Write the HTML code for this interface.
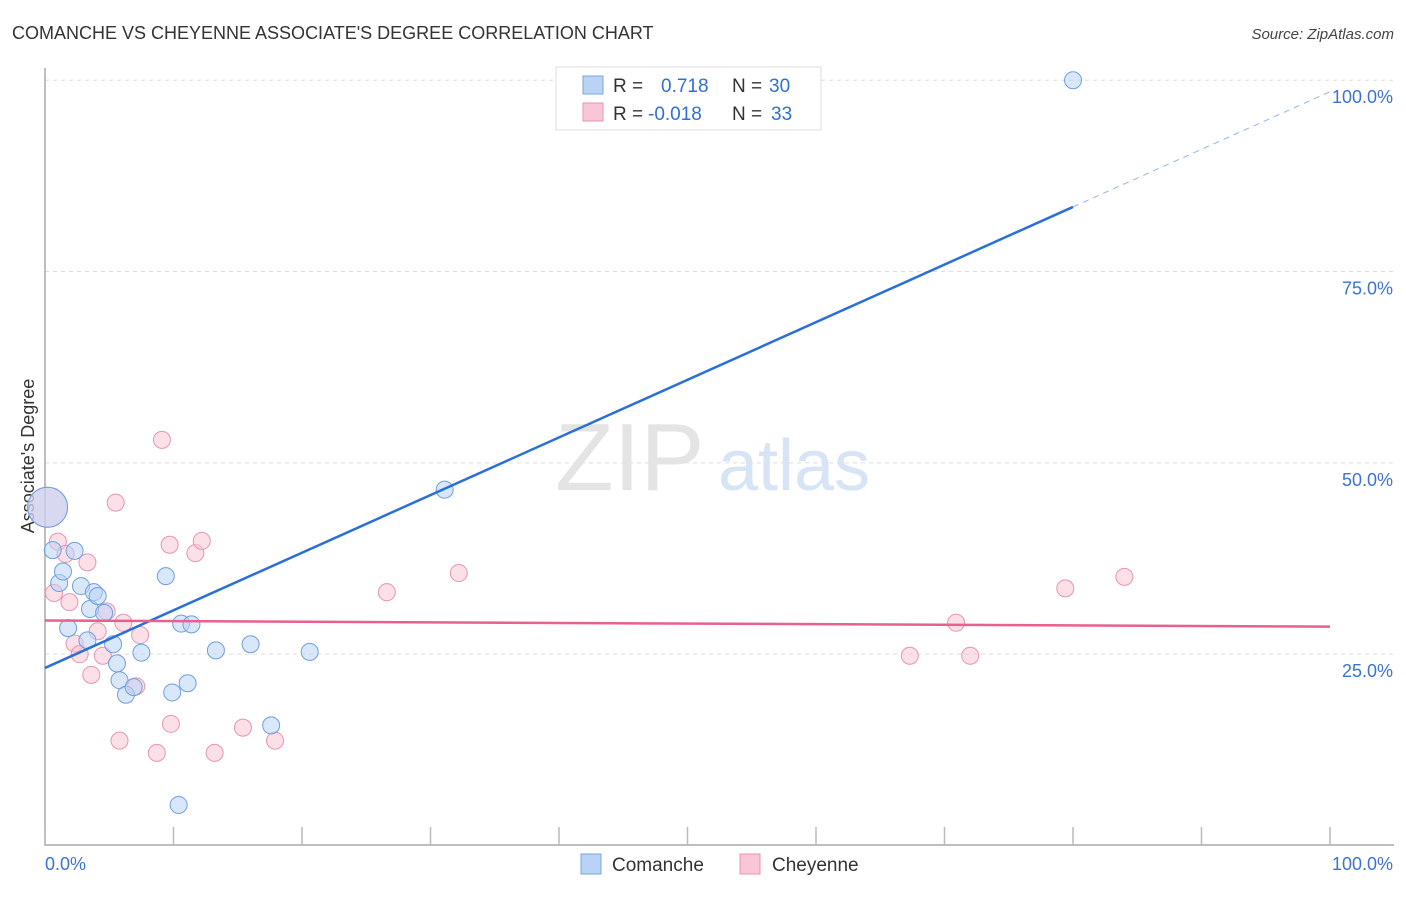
<!DOCTYPE html>
<html><head><meta charset="utf-8"><style>
body{margin:0;background:#fff;font-family:"Liberation Sans",sans-serif;}
svg text{font-family:"Liberation Sans",sans-serif;}
</style></head><body>
<svg id="c" width="1406" height="892" xmlns="http://www.w3.org/2000/svg">
<text x="12" y="39" font-size="18" fill="#333">COMANCHE VS CHEYENNE ASSOCIATE'S DEGREE CORRELATION CHART</text>
<text x="1394" y="39" font-size="15" fill="#444" font-style="italic" text-anchor="end">Source: ZipAtlas.com</text>
<text transform="translate(34,456) rotate(-90)" font-size="18" fill="#333" text-anchor="middle">Associate's Degree</text>
<g id="grid"></g>
<text x="555" y="490" font-size="96" fill="#e4e4e4" font-family="Liberation Serif">ZIP</text>
<text x="718" y="490" font-size="72" fill="#d6e4f5">atlas</text>
<g id="pts"></g>
<g id="lines"></g>
<g>
<rect x="556" y="67" width="265" height="63" fill="#fff" stroke="#ddd"/>
<rect x="583" y="76" width="20" height="18" fill="#b9d3f5" stroke="#7aa6e3"/>
<rect x="583" y="103" width="20" height="18" fill="#f9c6d6" stroke="#e994b0"/>
<text x="613" y="92" font-size="19" fill="#333">R =</text>
<text x="661" y="92" font-size="19" fill="#2f6fd6">0.718</text>
<text x="732" y="92" font-size="19" fill="#333">N =</text>
<text x="769" y="92" font-size="19" fill="#2f6fd6">30</text>
<text x="613" y="120" font-size="19" fill="#333">R =</text>
<text x="648" y="120" font-size="19" fill="#2f6fd6">-0.018</text>
<text x="732" y="120" font-size="19" fill="#333">N =</text>
<text x="771" y="120" font-size="19" fill="#2f6fd6">33</text>
</g>
<g>
<rect x="581" y="854" width="20" height="20" fill="#b9d3f5" stroke="#7aa6e3"/>
<text x="612" y="871" font-size="19" fill="#333">Comanche</text>
<rect x="740" y="854" width="20" height="20" fill="#f9c6d6" stroke="#e994b0"/>
<text x="772" y="871" font-size="19" fill="#333">Cheyenne</text>
</g>
</svg>
<script>
const xTicks=[0,10,20,30,40,50,60,70,80,90,100];
const yTicks=[25,50,75,100];
const yTickLabels=["25.0%","50.0%","75.0%","100.0%"];
const comancheX=[0.2,0.6,1.1,1.4,1.8,2.3,2.8,3.3,3.5,3.8,4.1,4.6,5.3,5.6,5.8,6.3,6.9,7.5,9.4,9.9,10.4,10.6,11.1,11.4,13.3,16.0,17.6,20.6,31.1,80.0];
const comancheY=[44.2,38.6,34.3,35.8,28.4,38.5,33.9,26.8,30.9,33.1,32.6,30.4,26.3,23.8,21.6,19.7,20.7,25.2,35.2,20.0,5.3,29.0,21.2,28.9,25.5,26.3,15.7,25.3,46.5,100.0];
const cheyenneX=[0.2,0.7,1.0,1.6,1.9,2.3,2.7,3.3,3.6,4.1,4.5,4.8,5.5,5.8,6.1,7.1,7.4,8.7,9.1,9.7,9.8,11.7,12.2,13.2,15.4,17.9,26.6,32.2,67.3,70.9,72.0,79.4,84.0];
const cheyenneY=[44.2,33.0,39.7,38.1,31.8,26.4,25.0,37.0,22.3,28.0,24.8,30.6,44.8,13.7,29.1,20.8,27.5,12.1,53.0,39.3,15.9,38.2,39.8,12.1,15.4,13.7,33.1,35.6,24.8,29.1,24.8,33.6,35.1];
const blueTrend=[23.2,98.5];
const pinkTrend=[29.4,28.6];
const NS="http://www.w3.org/2000/svg";
const X=v=>45+v*12.85, Y=v=>845.5-v*7.653;
function mk(t,a,p){const e=document.createElementNS(NS,t);for(const k in a)e.setAttribute(k,a[k]);p.appendChild(e);return e;}
const g=document.getElementById('grid');
yTicks.forEach((t,i)=>{
 const l=mk('line',{x1:45,x2:1394,y1:Y(t),y2:Y(t),stroke:'#ddd','stroke-dasharray':'4,4'},g);
 
 
 const tx=mk('text',{x:1393,y:Y(t)+23,'font-size':18,fill:'#3b73d4','text-anchor':'end'},g);
 tx.textContent=yTickLabels[i];
 
 
});
const ax=mk('path',{d:'M45 68V845H1394',fill:'none',stroke:'#aaa','stroke-width':1.5},g);


xTicks.forEach(t=>{
 const l=mk('line',{x1:X(t),x2:X(t),y1:827,y2:845,stroke:'#bbb','stroke-width':1.5},g);
 
 
});
const x0=mk('text',{x:45,y:870,'font-size':18,fill:'#3b73d4'},g);x0.textContent='0.0%';


const x1=mk('text',{x:1393,y:870,'font-size':18,fill:'#3b73d4','text-anchor':'end'},g);x1.textContent='100.0%';


const p=document.getElementById('pts');
function dots(xs,ys,fill,stroke,name){xs.forEach((x,i)=>{
 const c=mk('circle',{cx:X(x),cy:Y(ys[i]),r:i==0&&x<0.5?20:8.5,fill:fill,'fill-opacity':0.55,stroke:stroke,'stroke-width':1},p);
 
 
});}
dots(cheyenneX,cheyenneY,'#f9c6d6','#e994b0','cheyenne-point');
dots(comancheX,comancheY,'#b9d3f5','#6f9fe0','comanche-point');
const L=document.getElementById('lines');
const bx=80;
const by=blueTrend[0]+(blueTrend[1]-blueTrend[0])*bx/100;
const b1=mk('line',{x1:X(0),y1:Y(blueTrend[0]),x2:X(bx),y2:Y(by),stroke:'#2a6fd8','stroke-width':2.5},L);


const b2=mk('line',{x1:X(bx),y1:Y(by),x2:X(100),y2:Y(blueTrend[1]),stroke:'#8fb2e8','stroke-width':1,'stroke-dasharray':'6,5'},L);


const pl=mk('line',{x1:X(0),y1:Y(pinkTrend[0]),x2:X(100),y2:Y(pinkTrend[1]),stroke:'#e8608e','stroke-width':2.5},L);


</script>
</body></html>
